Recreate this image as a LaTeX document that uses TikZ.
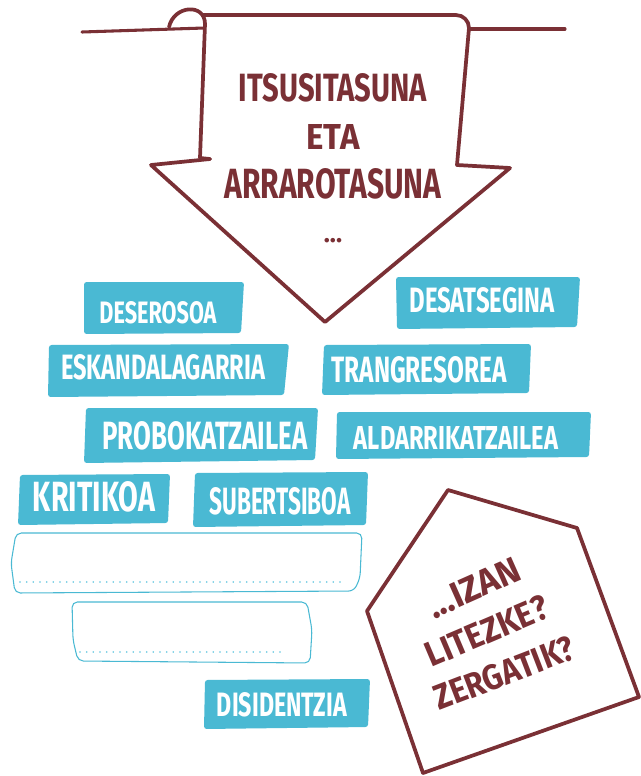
\documentclass[tikz,border=0pt]{standalone}
\usepackage{fontspec}
\setmainfont{Fira Sans}
\usepackage{graphicx}
\newlength\pxu
\setlength\pxu{0.75pt}
\newcommand\fitt[3]{\resizebox{#1\pxu}{#2\pxu}{#3}}
\definecolor{brw}{HTML}{7A3035}
\definecolor{tagblue}{HTML}{4AB9D3}
\definecolor{dotblue}{HTML}{5EC4DE}
\begin{document}
\begin{tikzpicture}[x=0.75pt,y=-0.75pt,
  stroke/.style={draw=brw,line width=2.8pt,line cap=round,line join=round},
  thinstroke/.style={draw=brw,line width=2.3pt,line cap=round,line join=round},
  tagbox/.style={fill=tagblue,rounded corners=2pt},
  emptybox/.style={draw=tagblue,line width=0.8pt,rounded corners=4pt},
  dotline/.style={draw=dotblue,line width=1.3pt,line cap=round,dash pattern=on 0pt off 5pt},
  tagtext/.style={text=white,inner sep=0pt,font=\bfseries},
  hand/.style={text=brw,inner sep=0pt,font=\bfseries}]
\useasboundingbox (0,0) rectangle (641,776);

% hanging arrow
\draw[thinstroke] (82,32) -- (204,28);
\draw[thinstroke] (470,29) -- (565,29);
\draw[stroke] (169,27) .. controls (174,5) and (205,3) .. (205,24) -- (200,158) -- (210,159);
\draw[stroke] (203,15) -- (456,15) to[out=0,in=90] (469,28) -- (457,165) -- (510,168) -- (325,322) -- (151,165) -- (210,159);

\node[hand] (t1) at (333,88) {\fitt{188}{28}{ITSUSITASUNA}};
\node[hand] (t2) at (333,137) {\fitt{53}{25}{ETA}};
\node[hand] (t3) at (333,184) {\fitt{217}{30}{ARRAROTASUNA}};
\node[hand,anchor=south,font=\fontsize{19}{19}\selectfont\bfseries] (t4) at (333,243) {...};

% tags
\fill[tagbox] (84,282) -- (244,282) -- (241,333) -- (84,334) -- cycle;
\node[tagtext] (deserosoa) at (158,313) {\fitt{117}{22}{DESEROSOA}};
\fill[tagbox] (396,277) -- (580,277) -- (577,327) -- (397,329) -- cycle;
\node[tagtext] (desatsegina) at (482,300) {\fitt{145}{25}{DESATSEGINA}};
\fill[tagbox] (49,345) -- (289,344) -- (284,395) -- (48,397) -- cycle;
\node[tagtext] (eskandalagarria) at (163,367) {\fitt{204}{25}{ESKANDALAGARRIA}};
\fill[tagbox] (324,345) -- (531,344) -- (529,393) -- (322,395) -- cycle;
\node[tagtext] (trangresorea) at (419,370) {\fitt{175}{26}{TRANGRESOREA}};
\fill[tagbox] (86,408) -- (318,408) -- (315,460) -- (84,463) -- cycle;
\node[tagtext] (probokatzailea) at (205,436) {\fitt{205}{28}{PROBOKATZAILEA}};
\fill[tagbox] (337,412) -- (591,412) -- (589,457) -- (336,459) -- cycle;
\node[tagtext] (aldarrikatzailea) at (456,438) {\fitt{204}{23}{ALDARRIKATZAILEA}};
\fill[tagbox] (20,475) -- (170,474) -- (168,523) -- (18,525) -- cycle;
\node[tagtext] (kritikoa) at (94,497) {\fitt{122}{30}{KRITIKOA}};
\fill[tagbox] (195,473) -- (368,472) -- (366,525) -- (193,527) -- cycle;
\node[tagtext] (subertsiboa) at (280,501) {\fitt{141}{27}{SUBERTSIBOA}};
\fill[tagbox] (205,680) -- (370,679) -- (368,727) -- (204,729) -- cycle;
\node[tagtext] (disidentzia) at (282,705) {\fitt{130}{24}{DISIDENTZIA}};

% empty boxes
\draw[emptybox] (16,533) -- (362,533) -- (360,578) -- (354,591) -- (15,593) -- (11,563) -- cycle;
\draw[dotline] (20,582) -- (341,582);
\draw[emptybox] (72,602) -- (307,602) -- (312,630) -- (310,663) -- (78,661) -- (73,640) -- cycle;
\draw[dotline] (80,652) -- (284,652);

% question pentagon
\draw[stroke] (448,490) -- (577,528) -- (639,697) -- (423,773) -- (367,611) -- cycle;
\node[hand,rotate=24] (q1) at (474,588) {\fitt{98}{25}{...IZAN}};
\node[hand,rotate=23] (q2) at (487,631) {\fitt{130}{25}{LITEZKE?}};
\node[hand,rotate=21] (q3) at (504,673) {\fitt{148}{25}{ZERGATIK?}};
\end{tikzpicture}
\end{document}
